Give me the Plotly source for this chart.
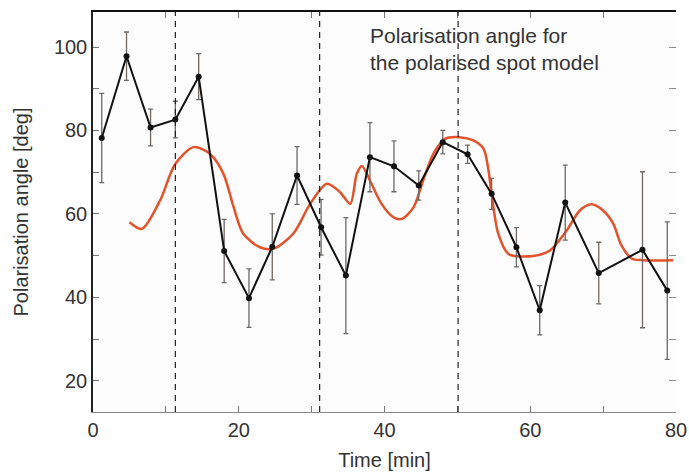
import plotly.graph_objects as go

# Observed polarisation angle (black points with error bars)
obs_time = [1.2, 4.6, 7.9, 11.3, 14.5, 18.0, 21.4, 24.6, 28.0, 31.3, 34.7, 38.0,
            41.3, 44.7, 48.0, 51.4, 54.7, 58.1, 61.3, 64.8, 69.4, 75.4, 78.8]
obs_angle = [78.2, 97.8, 80.7, 82.6, 92.9, 51.1, 39.8, 52.1, 69.2, 56.8, 45.2, 73.6,
             71.4, 66.8, 77.2, 74.3, 64.8, 52.0, 36.9, 62.7, 45.8, 51.4, 41.6]
obs_err = [10.7, 5.8, 4.4, 4.4, 5.5, 7.6, 7.0, 7.9, 6.9, 6.7, 13.9, 8.3,
           6.1, 3.5, 2.8, 2.2, 3.7, 4.7, 5.9, 9.0, 7.4, 18.7, 16.5]

# Polarised spot model (red curve)
model_time = [5.0, 6.7, 9.2, 11.3, 13.8, 16.1, 17.9, 19.3, 20.6, 22.9, 24.8, 27.5,
              29.8, 32.1, 33.9, 35.3, 36.2, 36.9, 38.0, 39.6, 41.2, 42.4, 44.0,
              45.3, 46.7, 48.3, 50.3, 52.2, 53.6, 54.2, 54.7, 55.6, 57.0, 60.4,
              62.7, 65.0, 66.8, 68.4, 70.0, 71.4, 72.5, 73.9, 75.5, 79.6]
model_angle = [58.0, 56.4, 63.2, 72.0, 76.0, 74.3, 69.6, 61.6, 55.3, 52.0, 51.7, 55.3,
               62.4, 67.2, 65.2, 62.4, 69.6, 71.5, 68.0, 62.4, 59.2, 58.8, 61.6,
               68.0, 74.4, 78.0, 78.4, 77.6, 75.6, 71.2, 64.8, 55.3, 50.4, 49.9,
               51.2, 56.0, 60.8, 62.3, 60.8, 57.6, 52.5, 49.3, 48.9, 48.9]

# Vertical dashed markers
dash_times = [11.3, 31.1, 50.1]

x_ticks = [0, 20, 40, 60, 80]
y_ticks = [20, 40, 60, 80, 100]

FONT = "Liberation Sans, Arial, sans-serif"
TXT = "#333333"

fig = go.Figure()

fig.add_trace(go.Scatter(
    x=model_time, y=model_angle, mode="lines",
    line=dict(color="#e4522a", width=2.5, shape="spline", smoothing=0.8),
    showlegend=False, hoverinfo="skip"))

fig.add_trace(go.Scatter(
    x=obs_time, y=obs_angle, mode="lines+markers",
    line=dict(color="#111111", width=2),
    marker=dict(color="#111111", size=6),
    error_y=dict(type="data", array=obs_err, visible=True,
                 color="#6e6864", thickness=1.3, width=2.5),
    showlegend=False))

# invisible trace for the top / right mirror axes
fig.add_trace(go.Scatter(x=[0, 80], y=[20, 20], xaxis="x2", yaxis="y2",
                         mode="markers", marker=dict(opacity=0),
                         showlegend=False, hoverinfo="skip"))

for t in dash_times:
    fig.add_shape(type="line", xref="x", yref="paper", x0=t, x1=t, y0=0, y1=1,
                  line=dict(color="#222222", width=1.2, dash="6px,5px"))

fig.add_annotation(
    text="Polarisation angle for<br>the polarised spot model",
    xref="x", yref="y", x=37.7, y=105.9, xanchor="left", yanchor="top",
    showarrow=False, align="left",
    font=dict(family=FONT, size=21, color=TXT))

fig.update_layout(
    width=689, height=474,
    margin=dict(l=93, r=13, t=12, b=62),
    paper_bgcolor="white",
    plot_bgcolor="#fdfdfd",
    font=dict(family=FONT, size=20, color=TXT),
    xaxis=dict(range=[0, 80], tickvals=x_ticks, ticks="inside", ticklen=6,
               tickcolor="#777777", showgrid=False, zeroline=False,
               showline=True, linecolor="#8a8a8a", linewidth=1.2,
               automargin=False,
               minor=dict(dtick=10, tick0=0, ticks="inside", ticklen=6,
                          tickcolor="#777777"),
               title=dict(text="Time [min]", standoff=12,
                          font=dict(family=FONT, size=20, color=TXT)),
               tickfont=dict(family=FONT, size=20, color=TXT)),
    yaxis=dict(range=[12.5, 108.4], tickvals=y_ticks, ticks="inside", ticklen=6,
               tickcolor="#777777", showgrid=False, zeroline=False,
               showline=True, linecolor="#222222", linewidth=1.5,
               automargin=False,
               minor=dict(dtick=10, tick0=0, ticks="inside", ticklen=6,
                          tickcolor="#777777"),
               title=dict(text="Polarisation angle [deg]", standoff=20,
                          font=dict(family=FONT, size=20, color=TXT)),
               tickfont=dict(family=FONT, size=20, color=TXT)),
    xaxis2=dict(range=[0, 80], overlaying="x", side="top", anchor="y2",
                tickvals=[0, 10, 20, 30, 40, 50, 60, 70, 80], ticks="inside",
                ticklen=6, tickcolor="#777777", showticklabels=False,
                showgrid=False, zeroline=False, showline=True, automargin=False,
                linecolor="#111111", linewidth=2),
    yaxis2=dict(range=[12.5, 108.4], overlaying="y", side="right", anchor="x2",
                tickvals=[20, 30, 40, 50, 60, 70, 80, 90, 100], ticks="inside",
                ticklen=7, tickcolor="#8a8a8a", showticklabels=False,
                automargin=False,
                showgrid=False, zeroline=False, showline=False),
)

fig.write_html("out.html")
